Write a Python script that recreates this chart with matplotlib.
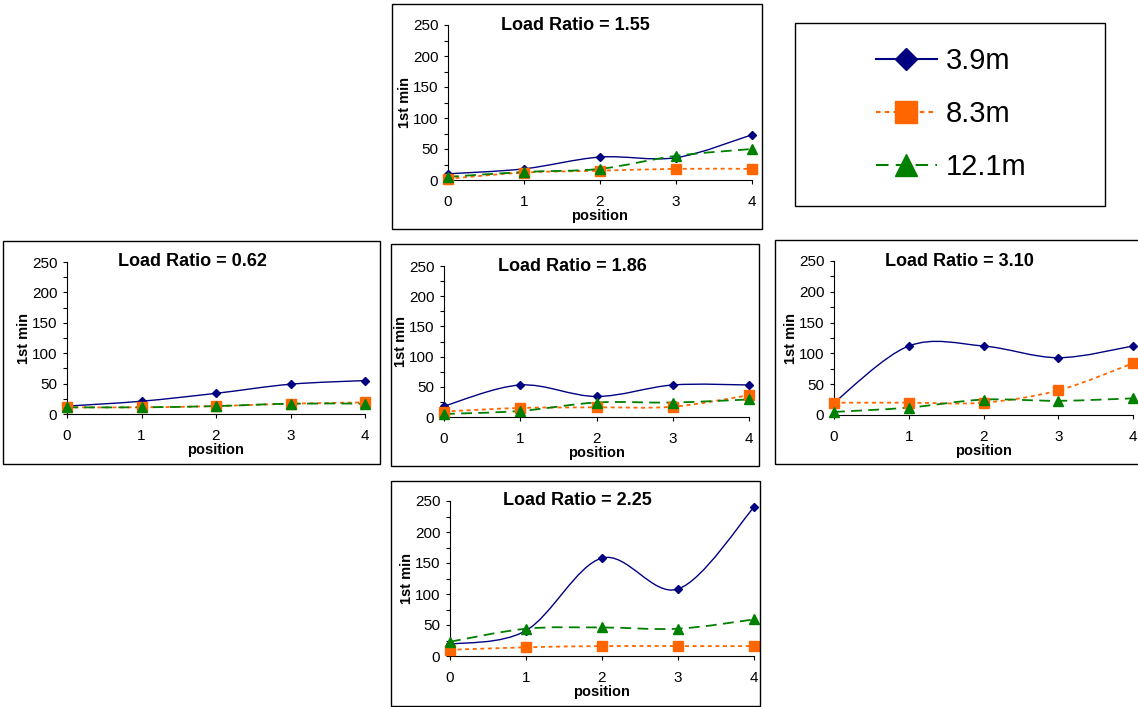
import numpy as np
import matplotlib
matplotlib.use('Agg')
import matplotlib.pyplot as plt
from matplotlib.path import Path
from matplotlib.patches import PathPatch, Rectangle
from matplotlib.lines import Line2D
from matplotlib.ticker import MultipleLocator

plt.rcParams['font.family'] = ['Liberation Sans', 'DejaVu Sans']

# data
positions = [0, 1, 2, 3, 4]
series_labels = ['3.9m', '8.3m', '12.1m']

lr155_39 = [10, 18, 37, 36, 73]
lr155_83 = [2, 12, 15, 18, 18]
lr155_121 = [5, 13, 18, 39, 50]

lr062_39 = [13, 21, 34, 49, 55]
lr062_83 = [11, 11, 13, 17, 19]
lr062_121 = [11, 11, 13, 17, 17]

lr186_39 = [18, 53, 34, 53, 53]
lr186_83 = [9, 15, 16, 17, 36]
lr186_121 = [5, 10, 24, 24, 29]

lr310_39 = [20, 112, 112, 93, 112]
lr310_83 = [20, 20, 20, 40, 84]
lr310_121 = [5, 12, 25, 23, 27]

lr225_39 = [19, 41, 158, 108, 240]
lr225_83 = [10, 14, 16, 16, 16]
lr225_121 = [23, 44, 46, 44, 59]

colors = ['#000080', '#FF6600', '#008000']
markers = ['D', 's', '^']
msizes = [4.5, 7, 7.5]
lstyles = ['-', (0, (2.2, 2.0)), (0, (6, 3.5))]
lwidths = [1.0, 1.3, 1.3]

W, H = 1138, 707
fig = plt.figure(figsize=(W / 100, H / 100), dpi=100)


def smooth_path(x, y):
    # excel-style smoothed line (bezier through the points)
    pts = np.column_stack([x, y]).astype(float)
    n = len(pts)
    verts = [pts[0]]
    codes = [Path.MOVETO]
    for i in range(n - 1):
        p0 = pts[i - 1] if i > 0 else pts[i]
        p1 = pts[i]
        p2 = pts[i + 1]
        p3 = pts[i + 2] if i + 2 < n else pts[i + 1]
        verts += [p1 + (p2 - p0) / 6, p2 - (p3 - p1) / 6, p2]
        codes += [Path.CURVE4] * 3
    return Path(verts, codes)


def frame(x0, x1, y0, y1):
    fig.add_artist(Rectangle((x0 / W, 1 - y1 / H), (x1 - x0) / W, (y1 - y0) / H,
                             transform=fig.transFigure, fill=False,
                             lw=1.0, ec='black'))


def panel(box, ax_px, title, s39, s83, s121):
    frame(*box)
    x0, x1, yt, yb = ax_px
    wpx, hpx = x1 - x0, yb - yt
    ax = fig.add_axes([x0 / W, 1 - yb / H, wpx / W, hpx / H])
    for vals, c, m, ms, ls, lw in zip([s39, s83, s121], colors, markers,
                                      msizes, lstyles, lwidths):
        ax.add_patch(PathPatch(smooth_path(positions, vals), fill=False,
                               ec=c, lw=lw, linestyle=ls, clip_on=False))
        ax.plot(positions, vals, linestyle='none', marker=m, ms=ms,
                color=c, mec=c, clip_on=False, zorder=3)
    ax.set_xlim(0, 4)
    ax.set_ylim(0, 250)
    ax.set_xticks(positions)
    ax.yaxis.set_major_locator(MultipleLocator(50))
    ax.yaxis.set_minor_locator(MultipleLocator(25))
    for s in ['top', 'right']:
        ax.spines[s].set_visible(False)
    for s in ['left', 'bottom']:
        ax.spines[s].set_linewidth(0.8)
    ax.tick_params(axis='y', which='both', direction='out', length=3,
                   width=0.8, labelsize=11, pad=4)
    ax.tick_params(axis='x', direction='out', length=3, width=0.8,
                   labelsize=11, pad=8)
    ax.set_xlabel('position', fontsize=10.5, fontweight='bold')
    ax.set_ylabel('1st min', fontsize=10.5, fontweight='bold')
    ax.xaxis.set_label_coords(0.5, -29 / hpx)
    ax.yaxis.set_label_coords(-36 / wpx, 0.5)
    ax.text(0.42, 1.0, 'Load Ratio = ' + title, transform=ax.transAxes,
            ha='center', va='center', fontsize=13, fontweight='bold')
    return ax


panel((392, 762, 4, 229), (448, 752, 25, 180), '1.55', lr155_39, lr155_83, lr155_121)
panel((3, 380, 241, 464), (67, 365, 262, 414), '0.62', lr062_39, lr062_83, lr062_121)
panel((391, 759, 244, 466), (444, 749, 266, 417), '1.86', lr186_39, lr186_83, lr186_121)
panel((775, 1145, 240, 464), (834, 1133, 261, 415), '3.10', lr310_39, lr310_83, lr310_121)
panel((391, 760, 481, 706), (450, 754, 501, 656), '2.25', lr225_39, lr225_83, lr225_121)

# legend box
frame(795, 1105, 23, 206)
handles = [Line2D([], [], color=c, lw=1.5, linestyle=ls, marker=m, ms=ms, mec=c)
           for c, ls, m, ms in zip(colors, lstyles, markers, [11, 16, 16])]
fig.legend(handles, series_labels, loc='center',
           bbox_to_anchor=(951 / W, 1 - 114 / H), frameon=False, fontsize=21,
           handlelength=2.1, handletextpad=0.3, labelspacing=0.85)

plt.savefig('out.png', dpi=100)
